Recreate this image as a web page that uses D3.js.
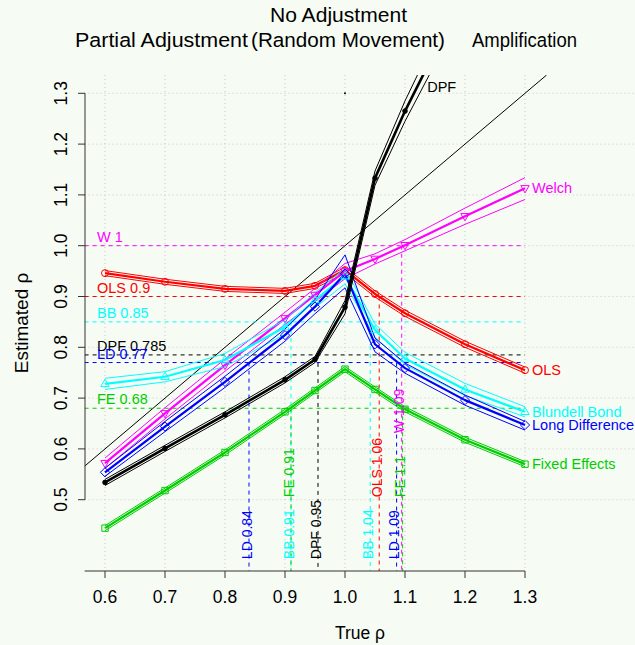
<!DOCTYPE html>
<html><head><meta charset="utf-8">
<script src="https://cdn.jsdelivr.net/npm/d3@7"></script>
<style>
body{margin:0;background:#f6fcf4;}
svg{display:block;}
text{font-family:"Liberation Sans",Arial,Helvetica,sans-serif;}
</style>
</head><body><svg id="c" width="635" height="645"></svg>
<script>
// ---------- data ----------
const trueRho = [0.6,0.7,0.8,0.9,0.95,1.0,1.05,1.1,1.2,1.3];

const olsMean  = [0.946,0.929,0.915,0.911,0.921,0.952,0.905,0.867,0.806,0.755];
const olsLow   = [0.941,0.924,0.910,0.906,0.916,0.946,0.899,0.861,0.800,0.749];
const olsHigh  = [0.951,0.934,0.920,0.916,0.926,0.958,0.911,0.873,0.812,0.761];

const welchMean = [0.572,0.670,0.765,0.857,0.903,0.950,0.974,1.001,1.058,1.113];
const welchLow  = [0.562,0.659,0.753,0.845,0.890,0.935,0.964,0.990,1.042,1.091];
const welchHigh = [0.582,0.681,0.777,0.869,0.916,0.965,0.984,1.012,1.074,1.134];

const bbMean = [0.728,0.742,0.775,0.840,0.893,0.940,0.834,0.778,0.717,0.673];
const bbLow  = [0.717,0.732,0.762,0.826,0.878,0.925,0.820,0.766,0.705,0.663];
const bbHigh = [0.739,0.752,0.788,0.854,0.908,0.955,0.846,0.790,0.729,0.683];

const ldMean = [0.554,0.644,0.732,0.824,0.880,0.945,0.806,0.759,0.696,0.647];
const ldLow  = [0.546,0.634,0.721,0.812,0.866,0.917,0.791,0.749,0.686,0.637];
const ldHigh = [0.562,0.654,0.743,0.836,0.894,0.982,0.818,0.769,0.706,0.654];

const feMean = [0.444,0.518,0.593,0.673,0.715,0.757,0.717,0.678,0.618,0.570];
const feLow  = [0.439,0.513,0.588,0.668,0.710,0.752,0.712,0.673,0.613,0.565];
const feHigh = [0.449,0.523,0.598,0.678,0.720,0.762,0.722,0.683,0.623,0.575];

const dpfMean = [0.534,0.601,0.667,0.736,0.776,0.879,1.133,1.265,1.500,1.750];
const dpfLow  = [0.528,0.595,0.661,0.730,0.770,0.866,1.119,1.245,1.470,1.710];
const dpfHigh = [0.540,0.607,0.673,0.742,0.782,0.892,1.147,1.285,1.530,1.790];

const seriesNames  = ["OLS","Welch","Blundell Bond","Long Difference","Fixed Effects","DPF"];
const seriesColors = ["#ff0000","#ff00ff","#00ffff","#0000ff","#00cd00","#000000"];
const seriesShapes = ["circle","triDown","triUp","diamond","square","dot"];

const refLabels = ["W 1","OLS 0.9","BB 0.85","DPF 0.785","LD 0.77","FE 0.68"];
const refValues = [1.0,0.9,0.85,0.785,0.77,0.68];
const refColors = ["#ff00ff","#ff0000","#00ffff","#000000","#0000ff","#00cd00"];

const crossLabels = ["LD 0.84","BB 0.91","FE 0.91","DPF 0.95","BB 1.04","OLS 1.06","LD 1.09","FE 1.1","W 1.09"];
const crossX      = [0.84,0.91,0.91,0.955,1.042,1.057,1.086,1.096,1.0945];
const crossFrom   = [0.77,0.85,0.68,0.785,0.85,0.9,0.77,0.68,1.0];
const crossLabelY = [0.383,0.383,0.505,0.383,0.383,0.505,0.383,0.505,0.631];
const crossColors = ["#0000ff","#00ffff","#00cd00","#000000","#00ffff","#ff0000","#0000ff","#00cd00","#ff00ff"];

const xTicks = [0.6,0.7,0.8,0.9,1.0,1.1,1.2,1.3];
const yTicks = [0.5,0.6,0.7,0.8,0.9,1.0,1.1,1.2,1.3];

const titleTop = "No Adjustment";
const titleParts = ["Partial Adjustment","(Random Movement)","Amplification"];

// ---------- scales ----------
const svg = d3.select("#c");
const x = d3.scaleLinear().domain([0.6,1.3]).range([105,525]);
const y = d3.scaleLinear().domain([0.5,1.3]).range([499.7,93.3]);
const xMin = x.invert(84.6), xMax = x.invert(635.4);
const yMin = y.invert(571), yMax = y.invert(75);

svg.append("defs").append("clipPath").attr("id","plot")
  .append("rect").attr("x",x(xMin)).attr("y",y(yMax))
  .attr("width",x(xMax)-x(xMin)).attr("height",y(yMin)-y(yMax));

// grid
const grid = svg.append("g").attr("stroke","#c8c8c8").attr("stroke-width",1).attr("stroke-dasharray","1,3");
xTicks.forEach(t=>grid.append("line").attr("x1",x(t)).attr("x2",x(t)).attr("y1",y(yMax)).attr("y2",y(yMin)));
yTicks.forEach(t=>grid.append("line").attr("x1",x(xMin)).attr("x2",x(xMax)).attr("y1",y(t)).attr("y2",y(t)));

const plot = svg.append("g").attr("clip-path","url(#plot)");

// 45 degree line
plot.append("line").attr("x1",x(xMin)).attr("y1",y(xMin)).attr("x2",x(yMax)).attr("y2",y(yMax))
  .attr("stroke","#000").attr("stroke-width",1);

// horizontal reference lines
refValues.forEach((v,i)=>{
  plot.append("line").attr("x1",x(xMin)).attr("x2",x(1.3)).attr("y1",y(v)).attr("y2",y(v))
    .attr("stroke",refColors[i]).attr("stroke-width",1).attr("stroke-dasharray","4,4");
});
// vertical crossing lines
crossX.forEach((v,i)=>{
  plot.append("line").attr("x1",x(v)).attr("x2",x(v)).attr("y1",y(crossFrom[i])).attr("y2",y(yMin))
    .attr("stroke",crossColors[i]).attr("stroke-width",1).attr("stroke-dasharray","4,4");
});

// series
const allSeries = [
  [olsMean,olsLow,olsHigh],[welchMean,welchLow,welchHigh],[bbMean,bbLow,bbHigh],
  [ldMean,ldLow,ldHigh],[feMean,feLow,feHigh],[dpfMean,dpfLow,dpfHigh]
];
const line = d3.line().x((d,i)=>x(trueRho[i])).y(d=>y(d));
allSeries.forEach((s,k)=>{
  const c = seriesColors[k];
  plot.append("path").attr("d",line(s[1])).attr("fill","none").attr("stroke",c).attr("stroke-width",1);
  plot.append("path").attr("d",line(s[2])).attr("fill","none").attr("stroke",c).attr("stroke-width",1);
  plot.append("path").attr("d",line(s[0])).attr("fill","none").attr("stroke",c)
    .attr("stroke-width",k===5?2.6:2.2).attr("stroke-linejoin","round");
});

function marker(shape,cx,cy){
  switch(shape){
    case "circle": return `M${cx+3.5},${cy}A3.5,3.5 0 1,1 ${cx-3.5},${cy}A3.5,3.5 0 1,1 ${cx+3.5},${cy}Z`;
    case "dot": return `M${cx+2.3},${cy}A2.3,2.3 0 1,1 ${cx-2.3},${cy}A2.3,2.3 0 1,1 ${cx+2.3},${cy}Z`;
    case "square": return `M${cx-3.2},${cy-3.2}h6.4v6.4h-6.4Z`;
    case "diamond": return `M${cx},${cy-4.6}L${cx+4.6},${cy}L${cx},${cy+4.6}L${cx-4.6},${cy}Z`;
    case "triUp": return `M${cx},${cy-4.6}L${cx+4.2},${cy+2.7}L${cx-4.2},${cy+2.7}Z`;
    case "triDown": return `M${cx},${cy+4.6}L${cx+4.2},${cy-2.7}L${cx-4.2},${cy-2.7}Z`;
  }
}
allSeries.forEach((s,k)=>{
  const c = seriesColors[k], sh = seriesShapes[k];
  s[0].forEach((v,i)=>{
    plot.append("path").attr("d",marker(sh,x(trueRho[i]),y(v)))
      .attr("fill",sh==="dot"?c:"none").attr("stroke",c).attr("stroke-width",1);
  });
});
// small point at top
plot.append("circle").attr("cx",x(1.0)).attr("cy",y(1.3)).attr("r",1).attr("fill","#000");

// reference labels
refValues.forEach((v,i)=>{
  svg.append("text").attr("x",97).attr("y",y(v)-4).attr("font-size",14.5)
    .attr("fill",refColors[i]).text(refLabels[i]);
});
// crossing labels (rotated)
crossX.forEach((v,i)=>{
  const px = x(v)+2.5, py = y(crossLabelY[i]);
  svg.append("text").attr("transform",`translate(${px},${py}) rotate(-90)`)
    .attr("font-size",14).attr("fill",crossColors[i]).text(crossLabels[i]);
});
// right end labels
[0,1,2,3,4].forEach(k=>{
  const s = allSeries[k][0];
  svg.append("text").attr("x",x(1.3)+7).attr("y",y(s[s.length-1])).attr("dy","0.35em")
    .attr("font-size",14.5).attr("fill",seriesColors[k]).text(seriesNames[k]);
});
svg.append("text").attr("x",x(1.137)).attr("y",y(1.312)).attr("dy","0.35em")
  .attr("font-size",14.5).attr("fill","#000").text("DPF");

// axes
const axCol = "#333";
const xa = svg.append("g");
xa.append("line").attr("x1",84.6).attr("x2",x(1.3)).attr("y1",571).attr("y2",571).attr("stroke",axCol);
xTicks.forEach(t=>{
  xa.append("line").attr("x1",x(t)).attr("x2",x(t)).attr("y1",571).attr("y2",578).attr("stroke",axCol);
  xa.append("text").attr("x",x(t)).attr("y",603).attr("text-anchor","middle").attr("font-size",17.5).text(d3.format(".1f")(t));
});
const ya = svg.append("g");
ya.append("line").attr("x1",85).attr("x2",85).attr("y1",y(0.5)).attr("y2",y(1.3)).attr("stroke",axCol);
yTicks.forEach(t=>{
  ya.append("line").attr("x1",78).attr("x2",85).attr("y1",y(t)).attr("y2",y(t)).attr("stroke",axCol);
  ya.append("text").attr("transform",`translate(67,${y(t)}) rotate(-90)`).attr("text-anchor","middle")
    .attr("font-size",17.5).text(d3.format(".1f")(t));
});
svg.append("text").attr("x",360).attr("y",639).attr("text-anchor","middle").attr("font-size",17.5).text("True ρ");
svg.append("text").attr("transform","translate(28,323) rotate(-90)").attr("text-anchor","middle").attr("font-size",19).text("Estimated ρ");

// titles (widths matched to the reference)
function title(txt,cx,by,len){
  svg.append("text").attr("x",cx-len/2).attr("y",by).attr("font-size",20.5)
    .attr("textLength",len).attr("lengthAdjust","spacingAndGlyphs").text(txt);
}
title(titleTop,338.5,22,137);
title(titleParts[0],161.5,47,173);
title(titleParts[1],348,47,194);
title(titleParts[2],524.5,47,105);
</script>
</body></html>
